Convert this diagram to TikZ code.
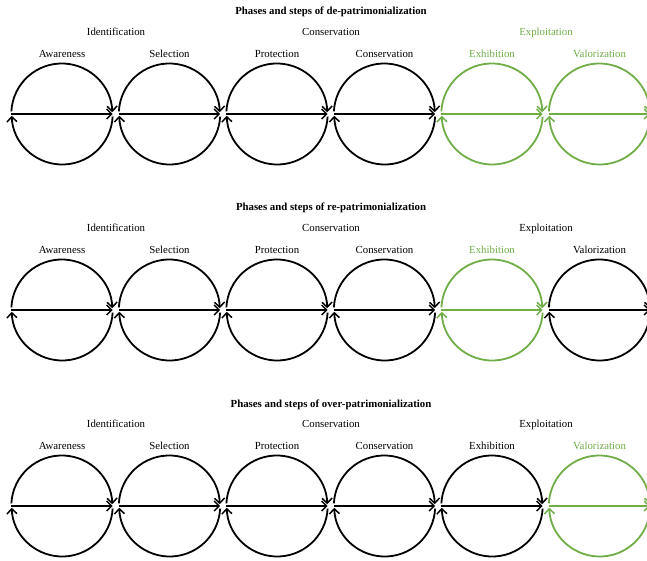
\documentclass[tikz,border=0pt]{standalone}
\usepackage{fontspec}
\setmainfont{Liberation Serif}
\usetikzlibrary{arrows.meta}
\definecolor{ogreen}{HTML}{70AD47}
\newcommand\stagecirc[5]{%
  \node[stage] (#1) at (#2,#3) {};
  \node[steplbl, text=#5] (#1-l) at (#2,#3+56.8) {#4};
  \draw[cyc, #5] (#1.177) arc[start angle=177, end angle=2, radius=50.5];
  \draw[cyc, #5] (#1.-3) arc[start angle=-3, end angle=-178, radius=50.5];
  \draw[cyc, #5] (#1.west) -- (#1.east);
}
\begin{document}
\begin{tikzpicture}[x=1pt,y=1pt,
  stage/.style={circle, minimum size=101pt, inner sep=0pt, draw=none},
  cyc/.style={line width=1.8pt, -{Straight Barb[length=5pt,width=10pt,line width=1.5pt]}},
  steplbl/.style={font=\fontsize{10.8}{12}\selectfont, inner sep=0pt, anchor=base},
  phaselbl/.style={font=\fontsize{10.8}{12}\selectfont, inner sep=0pt, anchor=base},
  titlelbl/.style={font=\fontsize{10.8}{12}\selectfont\bfseries, inner sep=0pt, anchor=base}
]
\useasboundingbox (0,0) rectangle (647,-561);
% Row 1
\node[titlelbl] (t1) at (331,-15) {Phases and steps of de-patrimonialization};
\node[phaselbl] (p1a) at (116,-35.7) {Identification};
\node[phaselbl] (p1b) at (331,-35.7) {Conservation};
\node[phaselbl, text=ogreen] (p1c) at (546,-35.7) {Exploitation};
\stagecirc{a1}{62}{-114}{Awareness}{black}
\stagecirc{a2}{169.5}{-114}{Selection}{black}
\stagecirc{a3}{277}{-114}{Protection}{black}
\stagecirc{a4}{384.5}{-114}{Conservation}{black}
\stagecirc{a5}{492}{-114}{Exhibition}{ogreen}
\stagecirc{a6}{599.5}{-114}{Valorization}{ogreen}
% Row 2
\node[titlelbl] (t2) at (331,-211) {Phases and steps of re-patrimonialization};
\node[phaselbl] (p2a) at (116,-231.7) {Identification};
\node[phaselbl] (p2b) at (331,-231.7) {Conservation};
\node[phaselbl] (p2c) at (546,-231.7) {Exploitation};
\stagecirc{b1}{62}{-310}{Awareness}{black}
\stagecirc{b2}{169.5}{-310}{Selection}{black}
\stagecirc{b3}{277}{-310}{Protection}{black}
\stagecirc{b4}{384.5}{-310}{Conservation}{black}
\stagecirc{b5}{492}{-310}{Exhibition}{ogreen}
\stagecirc{b6}{599.5}{-310}{Valorization}{black}
% Row 3
\node[titlelbl] (t3) at (331,-407) {Phases and steps of over-patrimonialization};
\node[phaselbl] (p3a) at (116,-427.7) {Identification};
\node[phaselbl] (p3b) at (331,-427.7) {Conservation};
\node[phaselbl] (p3c) at (546,-427.7) {Exploitation};
\stagecirc{c1}{62}{-506}{Awareness}{black}
\stagecirc{c2}{169.5}{-506}{Selection}{black}
\stagecirc{c3}{277}{-506}{Protection}{black}
\stagecirc{c4}{384.5}{-506}{Conservation}{black}
\stagecirc{c5}{492}{-506}{Exhibition}{black}
\stagecirc{c6}{599.5}{-506}{Valorization}{ogreen}
\end{tikzpicture}
\end{document}
